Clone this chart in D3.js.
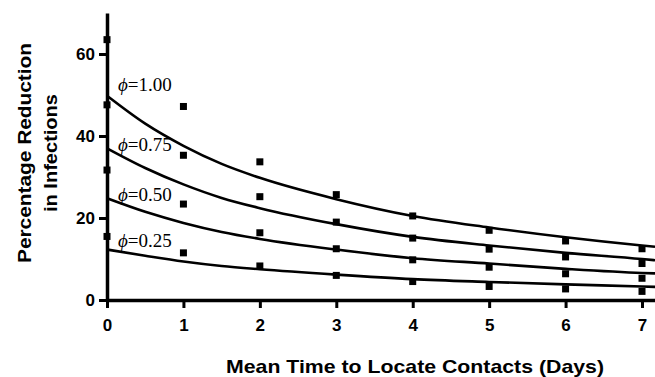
<!DOCTYPE html>
<html><head><meta charset="utf-8">
<script src="https://cdn.jsdelivr.net/npm/d3@7"></script>
<style>
body{margin:0;background:#fff;}
svg{display:block;}
.axis path,.axis line{stroke:#000;}
.axis text{font-family:Arial,"Liberation Sans",sans-serif;font-weight:bold;font-size:17px;fill:#000;}
</style></head><body>
<svg id="c" width="655" height="377"></svg>
<script>
// Observed data points (days, % reduction)
const days = [0, 1, 2, 3, 4, 5, 6, 7];
const pts100 = [63.5, 47.2, 33.7, 25.7, 20.5, 17.0, 14.4, 12.5];
const pts075 = [47.6, 35.3, 25.2, 19.0, 15.1, 12.4, 10.5, 8.9];
const pts050 = [31.7, 23.4, 16.4, 12.5, 9.8, 8.0, 6.4, 5.3];
const pts025 = [15.5, 11.5, 8.3, 6.0, 4.5, 3.3, 2.7, 2.1];

// Model curves
const curveX = [0, 0.5, 1, 1.5, 2, 3, 4, 5, 6, 7, 7.17];
const curve100 = [49.8, 43.0, 37.6, 33.2, 29.8, 24.6, 20.5, 17.7, 15.3, 13.3, 13.0];
const curve075 = [37.0, 32.2, 28.2, 24.9, 22.4, 18.5, 15.4, 13.3, 11.5, 10.0, 9.7];
const curve050 = [24.8, 21.5, 18.8, 16.6, 14.9, 12.3, 10.2, 8.9, 7.6, 6.6, 6.5];
const curve025 = [12.3, 10.8, 9.4, 8.3, 7.5, 6.2, 5.1, 4.4, 3.8, 3.3, 3.2];

const phiLabels = ["\u03D5=1.00", "\u03D5=0.75", "\u03D5=0.50", "\u03D5=0.25"];
const labelYVals = [52.5, 37.8, 25.5, 14.5];

const xTicks = [0, 1, 2, 3, 4, 5, 6, 7];
const yTicks = [0, 20, 40, 60];

const svg = d3.select("#c");
const x = d3.scaleLinear().domain([0, 7.17]).range([107, 655]);
const y = d3.scaleLinear().domain([0, 70]).range([300, 13]);

// Curves
const line = d3.line().x((d, i) => x(curveX[i])).y(d => y(d)).curve(d3.curveMonotoneX);
[curve100, curve075, curve050, curve025].forEach(c => {
  svg.append("path").attr("d", line(c)).attr("fill", "none")
    .attr("stroke", "#000").attr("stroke-width", 2.6);
});

// Axes
const yAxis = svg.append("g").attr("class", "axis").attr("transform", `translate(${x(0)},0)`)
  .call(d3.axisLeft(y).tickValues(yTicks).tickSize(8).tickPadding(4).tickSizeOuter(0));
yAxis.select(".domain").attr("stroke-width", 3.5);
yAxis.selectAll(".tick line").attr("stroke-width", 3);

const xAxis = svg.append("g").attr("class", "axis").attr("transform", `translate(0,${y(0)})`)
  .call(d3.axisBottom(x).tickValues(xTicks).tickSize(8).tickPadding(11).tickSizeOuter(0));
xAxis.select(".domain").attr("stroke-width", 3.5);
xAxis.selectAll(".tick line").attr("stroke-width", 3);

// Points
const sz = 7;
[pts100, pts075, pts050, pts025].forEach(p => {
  svg.append("g").selectAll("rect").data(p).join("rect")
    .attr("x", (d, i) => x(days[i]) - sz / 2)
    .attr("y", d => y(d) - sz / 2)
    .attr("width", sz).attr("height", sz).attr("fill", "#000");
});

// Phi labels
phiLabels.forEach((t, i) => {
  const tx = svg.append("text").attr("x", 118).attr("y", y(labelYVals[i]) + 6)
    .attr("font-family", "'Liberation Serif','Times New Roman',serif").attr("font-size", 19).attr("fill", "#000");
  tx.append("tspan").attr("font-style", "italic").text(t[0]);
  tx.append("tspan").text(t.slice(1));
});

// Axis titles
svg.append("text").attr("x", 415).attr("y", 373).attr("text-anchor", "middle")
  .attr("font-family", "Arial,'Liberation Sans',sans-serif").attr("font-weight", "bold").attr("font-size", 19)
  .attr("textLength", 378).attr("lengthAdjust", "spacingAndGlyphs")
  .text("Mean Time to Locate Contacts (Days)");
const yt = svg.append("text").attr("transform", "translate(31,153) rotate(-90)").attr("text-anchor", "middle")
  .attr("font-family", "Arial,'Liberation Sans',sans-serif").attr("font-weight", "bold").attr("font-size", 19);
yt.append("tspan").attr("x", 0).attr("dy", 0)
  .attr("textLength", 220).attr("lengthAdjust", "spacingAndGlyphs").text("Percentage Reduction");
yt.append("tspan").attr("x", 0).attr("dy", 26)
  .attr("textLength", 118).attr("lengthAdjust", "spacingAndGlyphs").text("in Infections");
</script></body></html>
